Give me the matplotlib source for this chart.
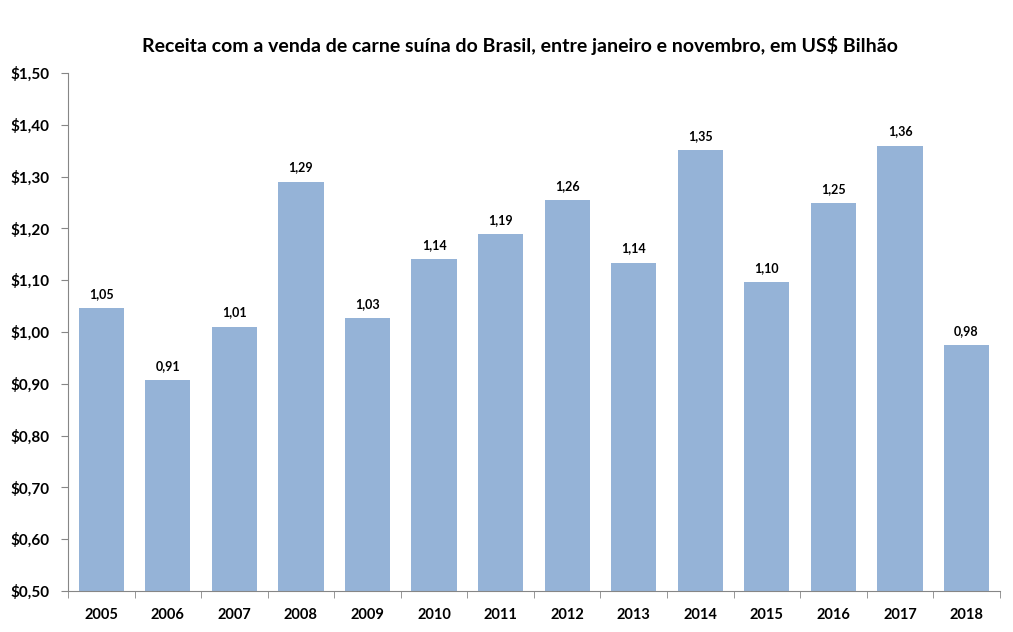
import matplotlib.pyplot as plt
import numpy as np

plt.rcParams['font.family'] = ['Lato', 'DejaVu Sans']

# dados
anos = ['2005', '2006', '2007', '2008', '2009', '2010', '2011',
        '2012', '2013', '2014', '2015', '2016', '2017', '2018']
receita = [1.046, 0.907, 1.010, 1.290, 1.027, 1.141, 1.189,
           1.254, 1.134, 1.351, 1.096, 1.249, 1.360, 0.975]
rotulos = ['1,05', '0,91', '1,01', '1,29', '1,03', '1,14', '1,19',
           '1,26', '1,14', '1,35', '1,10', '1,25', '1,36', '0,98']
y_ticks = [0.5, 0.6, 0.7, 0.8, 0.9, 1.0, 1.1, 1.2, 1.3, 1.4, 1.5]

fig = plt.figure(figsize=(10.13, 6.32), dpi=100)
ax = fig.add_axes([0.0671, 0.0649, 0.9199, 0.8196])

x = np.arange(len(anos))
ax.bar(x, receita, width=0.68, color='#95B3D7', bottom=0, zorder=2)

for xi, v, r in zip(x, receita, rotulos):
    ax.text(xi, v + 0.016, r, ha='center', va='bottom', fontsize=9,
            fontweight='bold')

ax.set_xlim(-0.5, len(anos) - 0.5)
ax.set_ylim(0.5, 1.5)
ax.set_yticks(y_ticks)
ax.set_yticklabels(['$' + ('%.2f' % t).replace('.', ',') for t in y_ticks],
                   fontsize=11, fontweight='bold')
ax.set_xticks(x)
ax.set_xticklabels(anos, fontsize=10.5, fontweight='bold')
ax.set_xticks(np.arange(-0.5, len(anos)), minor=True)
ax.tick_params(axis='x', which='major', length=0, pad=12)
ax.tick_params(axis='x', which='minor', length=5, color='#868686')
ax.tick_params(axis='y', length=5, color='#868686', pad=8)

for s in ['top', 'right']:
    ax.spines[s].set_visible(False)
for s in ['left', 'bottom']:
    ax.spines[s].set_color('#868686')

fig.text(0.513, 0.928, 'Receita com a venda de carne suína do Brasil, entre janeiro e novembro, em US$ Bilhão',
         ha='center', va='center', fontsize=14, fontweight='bold')

plt.savefig('out.png', dpi=100)
